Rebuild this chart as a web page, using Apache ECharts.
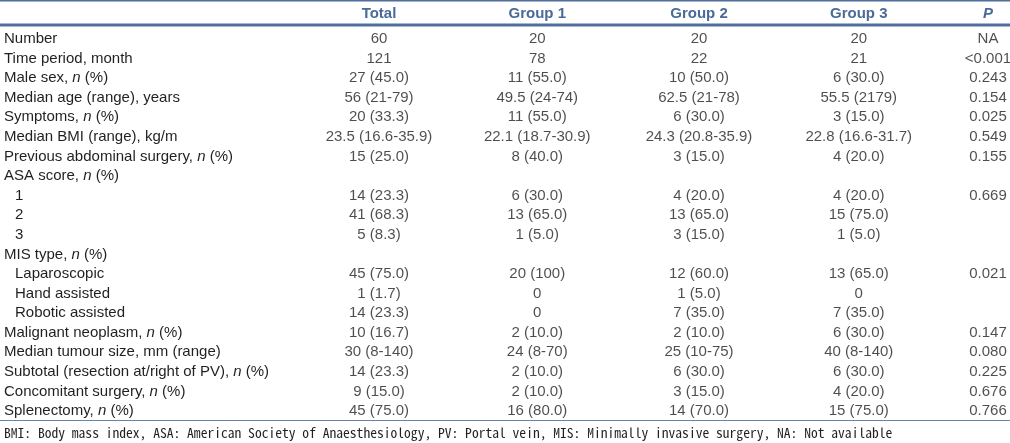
<!DOCTYPE html>
<html>
<head>
<meta charset="utf-8">
<script src="https://cdn.jsdelivr.net/npm/echarts@6/dist/echarts.min.js"></script>
<style>
html,body{margin:0;padding:0;background:#fff;}
#chart{width:1010px;height:443px;}
</style>
</head>
<body>
<div id="chart"></div>
<script>
// ---- data ----
var columns = ['Total', 'Group 1', 'Group 2', 'Group 3', 'P'];
var rowLabels = ['Number', 'Time period, month', 'Male sex, n (%)', 'Median age (range), years',
  'Symptoms, n (%)', 'Median BMI (range), kg/m', 'Previous abdominal surgery, n (%)', 'ASA score, n (%)',
  '1', '2', '3', 'MIS type, n (%)', 'Laparoscopic', 'Hand assisted', 'Robotic assisted',
  'Malignant neoplasm, n (%)', 'Median tumour size, mm (range)', 'Subtotal (resection at/right of PV), n (%)',
  'Concomitant surgery, n (%)', 'Splenectomy, n (%)'];
var indentedRows = [8, 9, 10, 12, 13, 14];
var totalVals = ['60', '121', '27 (45.0)', '56 (21-79)', '20 (33.3)', '23.5 (16.6-35.9)', '15 (25.0)', '',
  '14 (23.3)', '41 (68.3)', '5 (8.3)', '', '45 (75.0)', '1 (1.7)', '14 (23.3)', '10 (16.7)', '30 (8-140)',
  '14 (23.3)', '9 (15.0)', '45 (75.0)'];
var group1Vals = ['20', '78', '11 (55.0)', '49.5 (24-74)', '11 (55.0)', '22.1 (18.7-30.9)', '8 (40.0)', '',
  '6 (30.0)', '13 (65.0)', '1 (5.0)', '', '20 (100)', '0', '0', '2 (10.0)', '24 (8-70)', '2 (10.0)',
  '2 (10.0)', '16 (80.0)'];
var group2Vals = ['20', '22', '10 (50.0)', '62.5 (21-78)', '6 (30.0)', '24.3 (20.8-35.9)', '3 (15.0)', '',
  '4 (20.0)', '13 (65.0)', '3 (15.0)', '', '12 (60.0)', '1 (5.0)', '7 (35.0)', '2 (10.0)', '25 (10-75)',
  '6 (30.0)', '3 (15.0)', '14 (70.0)'];
var group3Vals = ['20', '21', '6 (30.0)', '55.5 (2179)', '3 (15.0)', '22.8 (16.6-31.7)', '4 (20.0)', '',
  '4 (20.0)', '15 (75.0)', '1 (5.0)', '', '13 (65.0)', '0', '7 (35.0)', '6 (30.0)', '40 (8-140)',
  '6 (30.0)', '4 (20.0)', '15 (75.0)'];
var pVals = ['NA', '<0.001', '0.243', '0.154', '0.025', '0.549', '0.155', '', '0.669', '', '', '',
  '0.021', '', '', '0.147', '0.080', '0.225', '0.676', '0.766'];
var footnote = 'BMI: Body mass index, ASA: American Society of Anaesthesiology, PV: Portal vein, MIS: Minimally invasive surgery, NA: Not available';

// ---- styling / layout ----
var FONT = '"Liberation Sans", Arial, sans-serif';
var FOOT_FONT = '"Noto Sans Mono CJK JP", "Noto Sans CJK JP", sans-serif';
var BODY_SIZE = 15;
var HEAD_SIZE = 15;
var TEXT = '#231f20';
var HEAD = '#4a6b98';
var RULE = '#4f6e9c';
var colShift = [0, 6, 15.5, 23, 0];   // small horizontal nudges of each column

// fit footnote to its measured width in the reference (~890px)
var mctx = document.createElement('canvas').getContext('2d');
mctx.font = '13.4px ' + FOOT_FONT;
var footSize = 13.4 * 888 / mctx.measureText(footnote).width;
if (footSize > 14.6) footSize = 14.6;

var colValues = [totalVals, group1Vals, group2Vals, group3Vals, pVals];

function cellData(vals, col) {
  var out = [];
  vals.forEach(function (v, i) {
    if (v !== '') out.push({ value: [col, i], text: v });
  });
  return out;
}

var series = colValues.map(function (vals, c) {
  return {
    type: 'scatter',
    symbolSize: 0,
    silent: true,
    data: cellData(vals, c),
    label: {
      show: true,
      position: 'inside',
      offset: [colShift[c], 0],
      formatter: function (p) { return p.data.text; },
      fontFamily: FONT,
      fontSize: BODY_SIZE,
      color: TEXT
    }
  };
});

function rowFormatter(v, i) {
  var s = v.replace(/, n \(%\)/, ', {i|n} (%)');
  if (indentedRows.indexOf(i) >= 0) return '{ind|' + s + '}';
  return s;
}

var headRich = {};
columns.forEach(function (c, i) {
  headRich['h' + i] = {
    fontFamily: FONT, fontSize: HEAD_SIZE, fontWeight: 'bold',
    fontStyle: c === 'P' ? 'italic' : 'normal', color: HEAD,
    padding: [0, 0, 0, colShift[i] * 2]
  };
});

var chart = echarts.init(document.getElementById('chart'), null, { renderer: 'canvas' });
chart.setOption({
  animation: false,
  backgroundColor: '#fff',
  grid: { left: 379, top: 29.2, width: 609, height: 391.6, containLabel: false },
  xAxis: {
    type: 'category',
    data: columns,
    boundaryGap: false,
    position: 'top',
    axisLine: { show: false },
    axisTick: { show: false },
    splitLine: { show: false },
    axisLabel: {
      margin: 8,
      interval: 0,
      formatter: function (v, i) { return '{h' + i + '|' + v + '}'; },
      rich: headRich
    }
  },
  yAxis: {
    type: 'category',
    data: rowLabels,
    inverse: true,
    axisLine: { show: false },
    axisTick: { show: false },
    splitLine: { show: false },
    axisLabel: {
      align: 'left',
      margin: 375,
      interval: 0,
      fontFamily: FONT,
      fontSize: BODY_SIZE,
      color: TEXT,
      formatter: rowFormatter,
      rich: {
        i: { fontFamily: FONT, fontSize: BODY_SIZE, fontStyle: 'italic', color: TEXT },
        ind: { fontFamily: FONT, fontSize: BODY_SIZE, color: TEXT, padding: [0, 0, 0, 11] }
      }
    }
  },
  series: series,
  graphic: [
    { type: 'line', shape: { x1: 0, y1: 0.75, x2: 1010, y2: 0.75 }, style: { stroke: RULE, lineWidth: 1.5 } },
    { type: 'line', shape: { x1: 0, y1: 25, x2: 1010, y2: 25 }, style: { stroke: RULE, lineWidth: 3 } },
    { type: 'line', shape: { x1: 0, y1: 420.5, x2: 1010, y2: 420.5 }, style: { stroke: '#6a84a8', lineWidth: 1 } },
    { type: 'text', x: 4, y: 433, style: { text: footnote, font: footSize.toFixed(2) + 'px ' + FOOT_FONT, fill: TEXT, textVerticalAlign: 'middle' } }
  ]
});
</script>
</body>
</html>
